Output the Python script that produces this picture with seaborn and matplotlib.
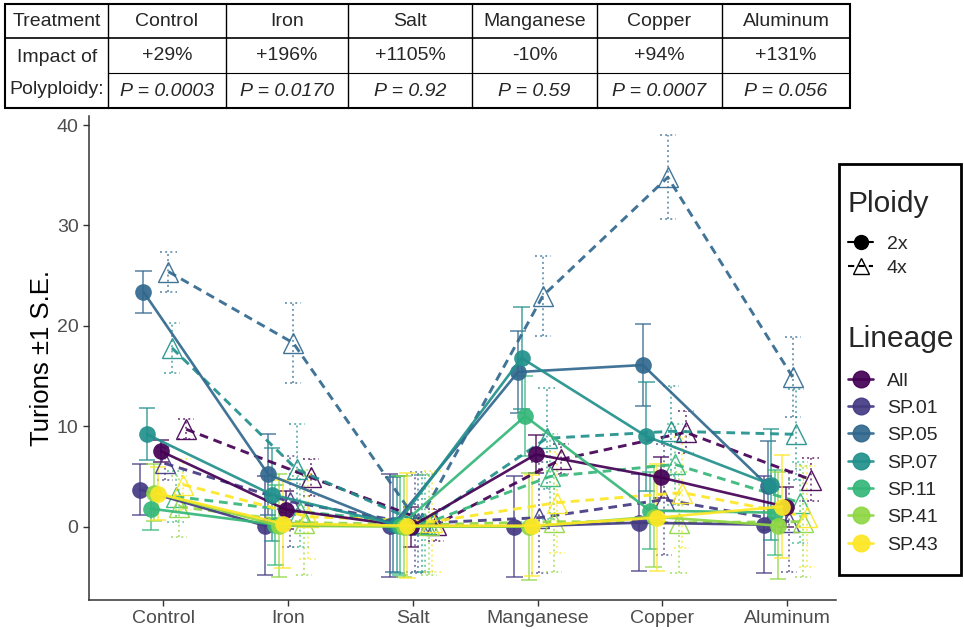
import pandas as pd
import matplotlib
matplotlib.use("Agg")
import matplotlib.pyplot as plt
from matplotlib.lines import Line2D
from matplotlib.patches import Rectangle
import seaborn as sns

# treatments, lineages, viridis colours
treatments = ["Control", "Iron", "Salt", "Manganese", "Copper", "Aluminum"]
lineages = ["All", "SP.01", "SP.05", "SP.07", "SP.11", "SP.41", "SP.43"]
palette = ["#440154", "#443A83", "#31688E", "#21908C", "#35B779", "#8FD744", "#FDE725"]
dodge_order = ["SP.01", "SP.05", "SP.07", "SP.11", "SP.41", "SP.43", "All"]

# table on top
impact = ["+29%", "+196%", "+1105%", "-10%", "+94%", "+131%"]
pvals = ["P = 0.0003", "P = 0.0170", "P = 0.92", "P = 0.59", "P = 0.0007", "P = 0.056"]

# mean turions (Control, Iron, Salt, Manganese, Copper, Aluminum)
mean_2x = {
    "All":   [7.5, 1.7, 0.0, 7.2, 4.9, 2.0],
    "SP.01": [3.7, 0.1, 0.1, 0.0, 0.4, 0.2],
    "SP.05": [23.4, 5.2, 0.2, 15.4, 16.1, 4.1],
    "SP.07": [9.2, 3.2, 0.2, 16.8, 9.0, 4.2],
    "SP.11": [1.8, 0.2, 0.1, 11.0, 1.6, 1.4],
    "SP.41": [3.4, 0.1, 0.0, 0.0, 1.0, 0.1],
    "SP.43": [3.3, 0.3, 0.1, 0.1, 0.9, 2.0],
}
se_2x = {
    "All":   [1.1, 1.9, 2.0, 1.9, 2.0, 2.0],
    "SP.01": [2.5, 4.9, 5.1, 5.0, 4.8, 4.8],
    "SP.05": [2.1, 4.0, 4.7, 4.1, 4.1, 4.4],
    "SP.07": [2.6, 4.6, 4.8, 5.1, 5.4, 5.5],
    "SP.11": [2.1, 4.0, 4.9, 4.0, 3.8, 4.2],
    "SP.41": [2.8, 5.1, 5.0, 5.3, 5.0, 5.3],
    "SP.43": [2.6, 4.4, 5.2, 5.0, 5.3, 5.1],
}
mean_4x = {
    "All":   [9.7, 4.9, 0.2, 6.7, 9.4, 4.7],
    "SP.01": [6.3, 2.5, 0.3, 0.9, 2.7, 0.5],
    "SP.05": [25.4, 18.3, 0.4, 23.0, 34.8, 14.9],
    "SP.07": [17.8, 5.7, 0.3, 8.8, 9.5, 9.2],
    "SP.11": [3.0, 1.5, 0.3, 5.0, 6.2, 2.4],
    "SP.41": [2.0, 0.4, 0.2, 0.5, 0.4, 0.5],
    "SP.43": [4.2, 1.0, 0.5, 2.4, 3.4, 1.0],
}
se_4x = {
    "All":   [1.0, 1.8, 1.6, 1.5, 2.1, 2.1],
    "SP.01": [1.6, 4.5, 4.8, 5.5, 5.5, 5.0],
    "SP.05": [2.0, 4.0, 5.0, 4.0, 4.2, 4.0],
    "SP.07": [2.5, 4.5, 4.8, 5.0, 4.5, 4.5],
    "SP.11": [2.5, 3.5, 4.8, 4.2, 4.0, 4.0],
    "SP.41": [3.0, 5.2, 5.0, 5.0, 5.0, 5.5],
    "SP.43": [2.5, 4.2, 5.0, 5.0, 5.5, 5.0],
}

sns.set_style("ticks")
plt.rcParams["font.family"] = ["Liberation Sans", "DejaVu Sans"]
colors = dict(zip(lineages, palette))

# long table with dodged x positions
rows = []
step = 0.0286
for p_i, (ploidy, means, ses) in enumerate([("2x", mean_2x, se_2x), ("4x", mean_4x, se_4x)]):
    for lin in lineages:
        k = p_i * 7 + dodge_order.index(lin)
        off = (k - 6.5) * step
        for t, tr in enumerate(treatments):
            rows.append(dict(Treatment=tr, Lineage=lin, Ploidy=ploidy, x=t + off,
                             mean=means[lin][t], se=ses[lin][t]))
df = pd.DataFrame(rows)

fig = plt.figure(figsize=(9.64, 6.3), dpi=100)
ax = fig.add_axes([89 / 964, 30 / 630, (836 - 89) / 964, (600 - 116) / 630])

# error bars (solid for 2x, dotted for 4x)
cap = 0.065
for (lin, ploidy), g in df.groupby(["Lineage", "Ploidy"]):
    ls = "-" if ploidy == "2x" else ":"
    lo = g["mean"] - g["se"]
    hi = g["mean"] + g["se"]
    kw = dict(colors=colors[lin], linestyles=ls, linewidth=1.4, alpha=0.65, zorder=1)
    ax.vlines(g["x"], lo, hi, **kw)
    ax.hlines(lo, g["x"] - cap, g["x"] + cap, **kw)
    ax.hlines(hi, g["x"] - cap, g["x"] + cap, **kw)

sns.lineplot(data=df[df.Ploidy == "2x"], x="x", y="mean", hue="Lineage",
             hue_order=lineages, palette=palette, estimator=None, sort=False,
             marker="o", markersize=12, markeredgewidth=0, linewidth=1.9,
             alpha=0.92, legend=False, ax=ax, zorder=3)
n0 = len(ax.lines)
sns.lineplot(data=df[df.Ploidy == "4x"], x="x", y="mean", hue="Lineage",
             hue_order=lineages, palette=palette, estimator=None, sort=False,
             marker="^", markersize=14, markeredgewidth=1.0, linewidth=2.1,
             linestyle=(0, (3, 2)), alpha=0.92, legend=False, ax=ax, zorder=2)
for ln in ax.lines[n0:]:
    ln.set_markeredgecolor(ln.get_color())
    ln.set_markerfacecolor("none")

ax.set_xlim(-0.593, 5.39)
ax.set_ylim(-7.3, 40.9)
ax.set_xticks(range(len(treatments)))
ax.set_xticklabels(treatments)
ax.set_yticks([0, 10, 20, 30, 40])
ax.set_xlabel("")
ax.set_ylabel("Turions ±1 S.E.", fontsize=18.5, color="black", labelpad=2)
ax.tick_params(axis="both", colors="#333333", labelcolor="#4D4D4D", labelsize=14,
               length=4, width=1)
sns.despine(ax=ax)
for s in ["left", "bottom"]:
    ax.spines[s].set_color("#333333")
    ax.spines[s].set_linewidth(1.1)

# overlay axes in pixel coordinates for table and legend frame
ov = fig.add_axes([0, 0, 1, 1], zorder=5)
ov.set_xlim(0, 964)
ov.set_ylim(630, 0)
ov.axis("off")
ov.patch.set_alpha(0)

col_edges = [5, 108, 226, 348, 472, 597, 722, 850]
ov.add_patch(Rectangle((5, 4), 845, 104, fill=False, edgecolor="black", linewidth=1.5))
ov.plot([5, 850], [38, 38], color="black", lw=1.2)
ov.plot([108, 850], [73, 73], color="black", lw=0.8)
for xe in col_edges[1:-1]:
    ov.plot([xe, xe], [4, 108], color="black", lw=1.0)
tfont = dict(fontsize=14, ha="center", va="center")
ov.text(57, 22, "Treatment", **tfont)
ov.text(57, 57, "Impact of", **tfont)
ov.text(57, 90, "Polyploidy:", **tfont)
for i, tr in enumerate(treatments):
    cx = (col_edges[i + 1] + col_edges[i + 2]) / 2
    ov.text(cx, 22, tr, **tfont)
    ov.text(cx, 56, impact[i], **tfont)
    ov.text(cx, 92, pvals[i], style="italic", **tfont)

# legend frame and titles
ov.add_patch(Rectangle((839, 164), 122, 411, fill=False, edgecolor="black", linewidth=2))
ov.text(848, 204, "Ploidy", fontsize=21.5, ha="left", va="center")
ov.text(848, 339, "Lineage", fontsize=21.5, ha="left", va="center")

ploidy_handles = [
    Line2D([], [], color="black", marker="o", markersize=10, linewidth=1.5),
    Line2D([], [], color="black", marker="^", markersize=12, markerfacecolor="none",
           linewidth=1.5, linestyle=(0, (3, 2))),
]
leg_kw = dict(loc="upper left", frameon=False, fontsize=14,
              handlelength=1.3, handletextpad=0.7, borderaxespad=0, borderpad=0)
fig.legend(ploidy_handles, ["2x", "4x"],
           bbox_to_anchor=(848 / 964, 1 - 235 / 630), labelspacing=0.35, **leg_kw)
lin_handles = [Line2D([], [], color=c, marker="o", markersize=12, linewidth=1.9, alpha=0.92)
               for c in palette]
fig.legend(lin_handles, lineages,
           bbox_to_anchor=(848 / 964, 1 - 372 / 630), labelspacing=0.5, **leg_kw)

fig.savefig("out.png", dpi=100)
